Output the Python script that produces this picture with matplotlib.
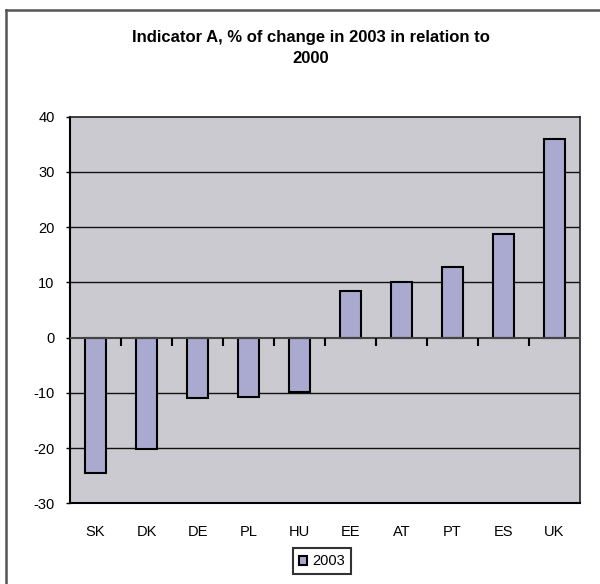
import matplotlib
matplotlib.use("Agg")
import matplotlib.pyplot as plt
from matplotlib.lines import Line2D

categories = ["SK", "DK", "DE", "PL", "HU", "EE", "AT", "PT", "ES", "UK"]
values_2003 = [-24.6, -20.2, -11.0, -10.7, -9.8, 8.4, 10.0, 12.8, 18.7, 36.0]
series_name = "2003"
yticks = [-30, -20, -10, 0, 10, 20, 30, 40]
title = "Indicator A, % of change in 2003 in relation to\n2000"

plt.rcParams['font.family'] = ['Liberation Sans', 'DejaVu Sans']

W, H = 600, 584
fig = plt.figure(figsize=(W / 100, H / 100), dpi=100)
fig.patch.set_facecolor('white')

# axes position in pixels
left, right, top, bottom = 70, 580, 116.7, 503.3
ax = fig.add_axes([left / W, 1 - bottom / H, (right - left) / W, (bottom - top) / H])
ax.set_facecolor('#CACAD0')

x = list(range(len(categories)))
ax.bar(x, values_2003, width=0.4, color='#AAAAD0', edgecolor='black',
       linewidth=1.5, zorder=3, label=series_name)

ax.set_xlim(-0.5, len(categories) - 0.5)
ax.set_ylim(yticks[0], yticks[-1])
ax.set_yticks(yticks)
ax.set_yticklabels([str(t) for t in yticks], fontsize=10.5)
ax.set_xticks(x)
ax.set_xticklabels(categories, fontsize=10.5)
ax.tick_params(axis='x', length=0, pad=15.5)
ax.tick_params(axis='y', length=3, width=1, pad=8, direction='out')

for t in yticks[1:-1]:
    if t != 0:
        ax.axhline(t, color='#111111', lw=1.0, zorder=1)
ax.axhline(0, color='#444444', lw=1.5, zorder=4)

# category boundary ticks on the zero line
bounds = [i + 0.5 for i in range(len(categories) - 1)]
ax.plot(bounds, [0] * len(bounds), linestyle='none', marker=3, markersize=6,
        mew=1.5, color='black', zorder=4, clip_on=False)

for s in ['left', 'bottom']:
    ax.spines[s].set_color('black')
    ax.spines[s].set_linewidth(1.5)
for s in ['top', 'right']:
    ax.spines[s].set_color('#222222')
    ax.spines[s].set_linewidth(1.2)

fig.text(311 / W, 1 - 48 / H, title, ha='center', va='center',
         fontsize=12, fontweight='bold', linespacing=1.45)

leg = fig.legend(loc='center', bbox_to_anchor=(322 / W, 1 - 561.3 / H),
                 fontsize=10.5, frameon=True, fancybox=False,
                 handlelength=0.55, handleheight=0.55, handletextpad=0.35,
                 borderpad=0.4, borderaxespad=0)
leg.get_frame().set_edgecolor('black')
leg.get_frame().set_linewidth(1.5)

# outer chart frame
fig.add_artist(Line2D([6 / W, 6 / W], [0, 1 - 10 / H], transform=fig.transFigure,
                      color='#555555', lw=1.8))
fig.add_artist(Line2D([6 / W, 1], [1 - 10 / H, 1 - 10 / H], transform=fig.transFigure,
                      color='#555555', lw=1.8))

fig.savefig('out.png', dpi=100)
